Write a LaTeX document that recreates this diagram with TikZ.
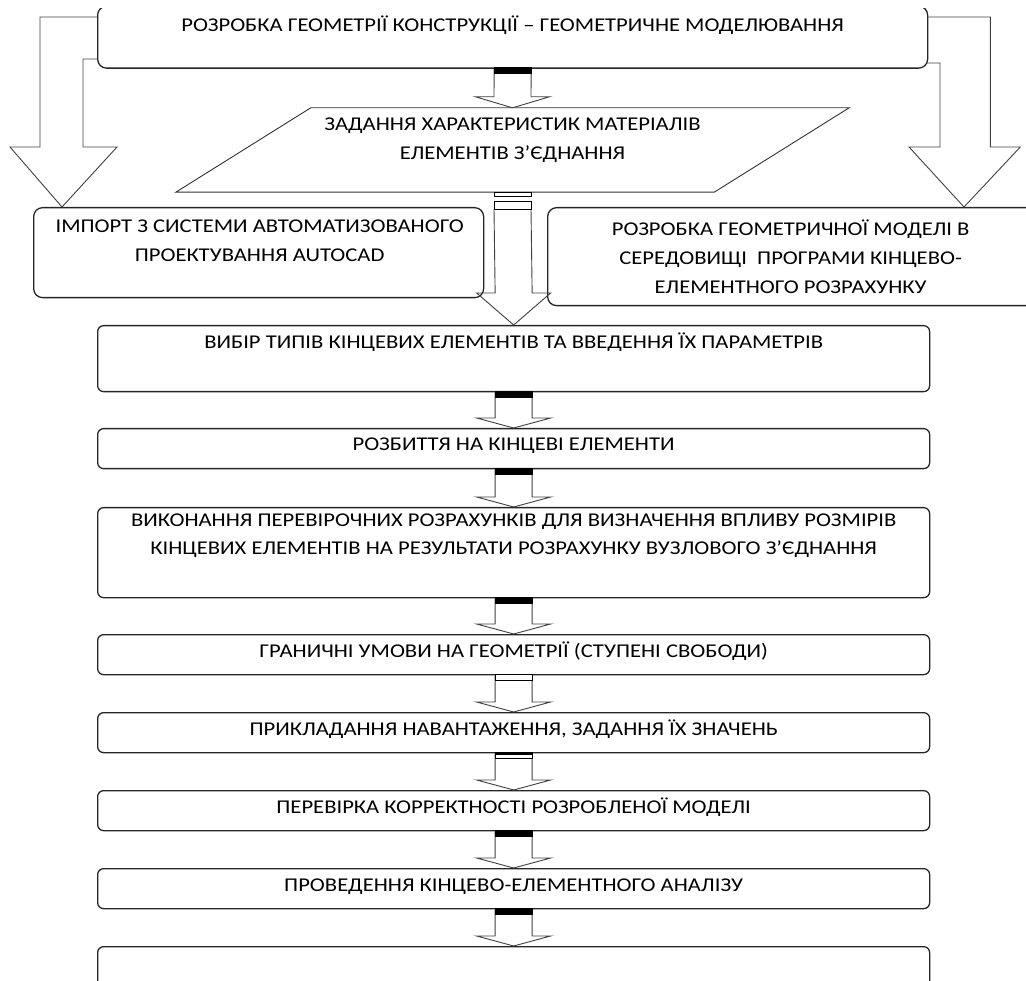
\documentclass[tikz,border=0pt]{standalone}
\usepackage{fontspec}
\setmainfont{Carlito}
\newfontfamily\widefont[FakeStretch=1.16]{Carlito}
\usetikzlibrary{positioning}

\tikzset{
  upbox/.style={draw=black!85, line width=1.3pt, rounded corners=9pt, fill=white, inner sep=0pt},
  lowbox/.style={draw=black!85, line width=1.3pt, rounded corners=6pt, fill=white, inner sep=0pt,
    minimum width=832pt, anchor=north west},
  uptext/.style={inner sep=0pt, align=center, font=\widefont\fontsize{19.5}{29}\selectfont,
    execute at begin node=\strut},
  lowtext/.style={inner sep=0pt, align=center, font=\widefont\fontsize{19.5}{28}\selectfont,
    execute at begin node=\strut},
  blockarrow/.style={draw=black!75, line width=0.9pt, line join=miter},
  paral/.style={draw=black!80, line width=0.9pt},
}

% hollow block arrow: [start shift]{from}{to}{head height}
\newcommand{\flowarrow}[4][0pt]{%
  \draw[blockarrow] ([xshift=-18.5pt,yshift=#1]#2.south) -- ([xshift=-18.5pt,yshift=#4]#3.north)
    -- ([xshift=-37pt,yshift=#4]#3.north) -- (#3.north)
    -- ([xshift=37pt,yshift=#4]#3.north) -- ([xshift=18.5pt,yshift=#4]#3.north)
    -- ([xshift=18.5pt,yshift=#1]#2.south);}
\newcommand{\blackcap}[1]{%
  \filldraw[black, line width=0.6pt] ([xshift=-18.5pt,yshift=1pt]#1.south) rectangle ([xshift=18.5pt,yshift=-5pt]#1.south);}
\newcommand{\whitecap}[1]{%
  \filldraw[draw=black, fill=white, line width=0.9pt] ([xshift=-18.5pt,yshift=1pt]#1.south) rectangle ([xshift=18.5pt,yshift=-5pt]#1.south);}

\begin{document}
\begin{tikzpicture}[x=1pt,y=-1pt]
\useasboundingbox (0,0) rectangle (1026,981);
\clip (0,8.5) rectangle (1026,981);

\node[upbox, minimum width=830pt, minimum height=62pt, anchor=north west] (geom) at (97,5.5) {};
\node[uptext, below=5.5pt of geom.north] (geomtxt) {РОЗРОБКА ГЕОМЕТРІЇ КОНСТРУКЦІЇ – ГЕОМЕТРИЧНЕ МОДЕЛЮВАННЯ};

\node[minimum width=538pt, minimum height=84pt, inner sep=0pt] (zad) at (512.5,150) {};
\draw[paral] ([xshift=67.5pt]zad.north west) -- ([xshift=67.5pt]zad.north east)
  -- ([xshift=-67.5pt]zad.south east) -- ([xshift=-67.5pt]zad.south west) -- cycle;
\node[uptext, below=10pt of zad.north] (zadtxt) {ЗАДАННЯ ХАРАКТЕРИСТИК МАТЕРІАЛІВ\\ ЕЛЕМЕНТІВ З’ЄДНАННЯ};

\node[upbox, minimum width=450pt, minimum height=90pt, anchor=north west] (imp) at (33,207) {};
\node[uptext, below=13pt of imp.north, xshift=1pt] (imptxt) {ІМПОРТ З СИСТЕМИ АВТОМАТИЗОВАНОГО\\ ПРОЕКТУВАННЯ AUTOCAD};

\node[upbox, minimum width=500pt, minimum height=98pt, anchor=north west] (ser) at (547,207) {};
\node[uptext, below=13pt of ser.north, xshift=-7pt] (sertxt) {РОЗРОБКА ГЕОМЕТРИЧНОЇ МОДЕЛІ В\\ СЕРЕДОВИЩІ\ \ ПРОГРАМИ КІНЦЕВО-\\ ЕЛЕМЕНТНОГО РОЗРАХУНКУ};

\node[lowbox, minimum height=66pt] (vybir) at (97,325) {};
\node[lowtext, below=4pt of vybir.north] (vybirtxt) {ВИБІР ТИПІВ КІНЦЕВИХ ЕЛЕМЕНТІВ ТА ВВЕДЕННЯ ЇХ ПАРАМЕТРІВ};
\node[lowbox, minimum height=40pt] (rozb) at (97,428) {};
\node[lowtext, below=3pt of rozb.north] (rozbtxt) {РОЗБИТТЯ НА КІНЦЕВІ ЕЛЕМЕНТИ};
\node[lowbox, minimum height=90pt] (vyk) at (97,507) {};
\node[lowtext, below=7pt of vyk.north] (vyktxt) {ВИКОНАННЯ ПЕРЕВІРОЧНИХ РОЗРАХУНКІВ ДЛЯ ВИЗНАЧЕННЯ ВПЛИВУ РОЗМІРІВ\\ КІНЦЕВИХ ЕЛЕМЕНТІВ НА РЕЗУЛЬТАТИ РОЗРАХУНКУ ВУЗЛОВОГО З’ЄДНАННЯ};
\node[lowbox, minimum height=40pt] (hran) at (97,634) {};
\node[lowtext, below=4pt of hran.north] (hrantxt) {ГРАНИЧНІ УМОВИ НА ГЕОМЕТРІЇ (СТУПЕНІ СВОБОДИ)};
\node[lowbox, minimum height=40pt] (prykl) at (97,712) {};
\node[lowtext, below=4pt of prykl.north] (prykltxt) {ПРИКЛАДАННЯ НАВАНТАЖЕННЯ, ЗАДАННЯ ЇХ ЗНАЧЕНЬ};
\node[lowbox, minimum height=40pt] (perev) at (97,790) {};
\node[lowtext, below=4pt of perev.north] (perevtxt) {ПЕРЕВІРКА КОРРЕКТНОСТІ РОЗРОБЛЕНОЇ МОДЕЛІ};
\node[lowbox, minimum height=40pt] (prov) at (97,868) {};
\node[lowtext, below=4pt of prov.north] (provtxt) {ПРОВЕДЕННЯ КІНЦЕВО-ЕЛЕМЕНТНОГО АНАЛІЗУ};
\node[lowbox, minimum height=60pt] (last) at (97,946) {};

% side arrows
\draw[blockarrow] ([yshift=-11.5pt]geom.north west) -- ++(-57,0) -- ++(0,130) -- ++(-30,0)
  -- ([xshift=29pt]imp.north west) -- ++(55,-60) -- ++(-34,0) -- ++(0,-88) -- ++(14,0);
\draw[blockarrow] ([yshift=-11.5pt]geom.north east) -- ++(62,0) -- ++(0,130) -- ++(30,0)
  -- ([xshift=417pt]ser.north west) -- ++(-55,-60) -- ++(31,0) -- ++(0,-84) -- ++(-13,0);

\flowarrow{geom}{zad}{11pt}
\blackcap{geom}
\flowarrow[-17pt]{zad}{vybir}{32pt}
\filldraw[draw=black, fill=white, line width=0.9pt] ([xshift=-18.5pt]zad.south) rectangle ([xshift=18.5pt,yshift=-4pt]zad.south);
\filldraw[draw=black, fill=white, line width=0.9pt] ([xshift=-18.5pt,yshift=-9pt]zad.south) rectangle ([xshift=18.5pt,yshift=-17pt]zad.south);

\flowarrow{vybir}{rozb}{10pt}
\blackcap{vybir}
\flowarrow{rozb}{vyk}{10pt}
\blackcap{rozb}
\flowarrow{vyk}{hran}{10pt}
\blackcap{vyk}
\flowarrow{hran}{prykl}{10pt}
\whitecap{hran}
\flowarrow{prykl}{perev}{10pt}
\whitecap{prykl}
\fill[black] ([xshift=-18.5pt,yshift=1pt]prykl.south) rectangle ([xshift=18.5pt,yshift=-2pt]prykl.south);
\flowarrow{perev}{prov}{10pt}
\blackcap{perev}
\flowarrow{prov}{last}{10pt}
\blackcap{prov}
\end{tikzpicture}
\end{document}
